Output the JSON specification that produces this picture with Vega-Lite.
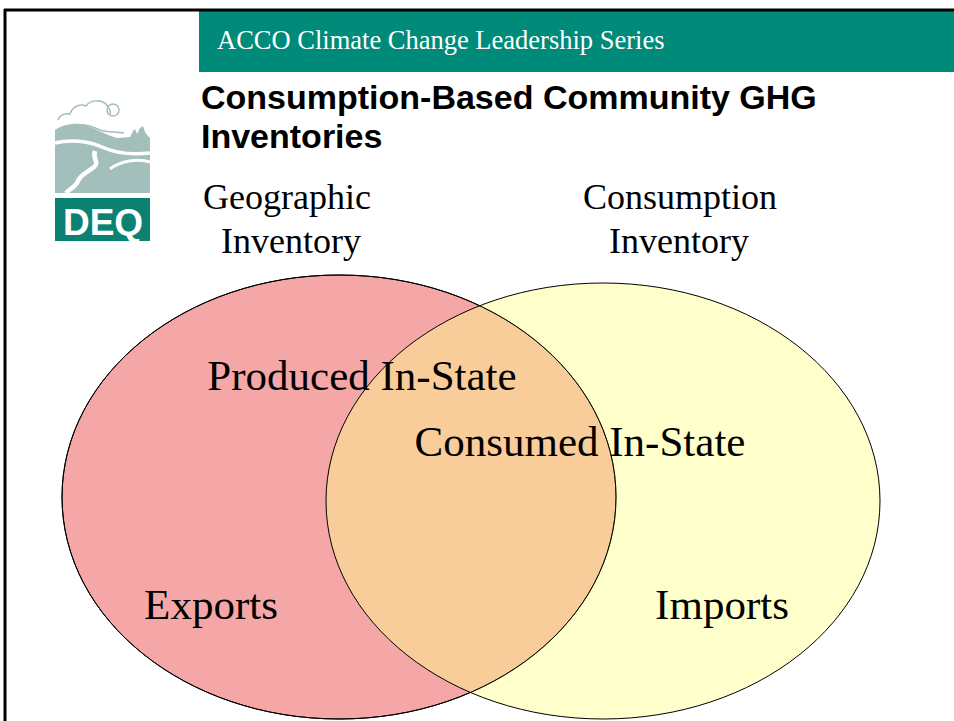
{
  "$schema": "https://vega.github.io/schema/vega-lite/v6.json",
  "width": 954,
  "height": 721,
  "padding": 0,
  "autosize": {"type": "none"},
  "background": "white",
  "config": {"view": {"stroke": null}},
  "datasets": {
    "frame": [
      {"part": "top", "x": 4, "x2": 954, "y": 10, "y2": 10},
      {"part": "left", "x": 5, "x2": 5, "y": 9, "y2": 721}
    ],
    "banner": [{"label": "ACCO Climate Change Leadership Series", "x": 199, "x2": 954, "y": 11, "y2": 72}],
    "bannerText": [{"label": "ACCO Climate Change Leadership Series", "x": 217, "y": 49}],
    "title": [
      {"label": "Consumption-Based Community GHG", "x": 201, "y": 109},
      {"label": "Inventories", "x": 201, "y": 148}
    ],
    "heads": [
      {"label": "Geographic", "x": 287, "y": 209},
      {"label": "Inventory", "x": 291, "y": 253},
      {"label": "Consumption", "x": 680, "y": 209},
      {"label": "Inventory", "x": 679, "y": 253}
    ],
    "sets": [
      {"set": "Geographic Inventory", "x": 339, "y": 497},
      {"set": "Consumption Inventory", "x": 603, "y": 501}
    ],
    "regions": [
      {"label": "Produced In-State", "x": 362, "y": 390},
      {"label": "Consumed In-State", "x": 580, "y": 456},
      {"label": "Exports", "x": 211, "y": 619},
      {"label": "Imports", "x": 722, "y": 619}
    ],
    "logo": [{"name": "landscape", "x": 50, "y": 95}],
    "sun": [{"name": "sun", "x": 113, "y": 110}],
    "deqBox": [{"label": "DEQ", "x": 55, "x2": 150, "y": 198, "y2": 241}],
    "deqText": [{"label": "DEQ", "x": 103, "y": 235}]
  },
  "encoding": {
    "x": {"field": "x", "type": "quantitative", "scale": {"domain": [0, 954], "nice": false, "zero": false}, "axis": null},
    "y": {"field": "y", "type": "quantitative", "scale": {"domain": [0, 721], "nice": false, "zero": false, "reverse": true}, "axis": null}
  },
  "layer": [
    {
      "data": {"name": "sets"},
      "transform": [{"filter": "datum.set == 'Geographic Inventory'"}],
      "mark": {"type": "point", "shape": "M-277,0C-277,-122.6,-153,-222,0,-222C153,-222,277,-122.6,277,0C277,122.6,153,222,0,222C-153,222,-277,122.6,-277,0Z", "size": 4, "filled": true, "fill": "#F5A6A6", "stroke": "#000000", "strokeWidth": 1, "opacity": 1}
    },
    {
      "data": {"name": "sets"},
      "transform": [{"filter": "datum.set == 'Consumption Inventory'"}],
      "mark": {"type": "point", "shape": "M-277,0C-277,-120.4,-153,-218,0,-218C153,-218,277,-120.4,277,0C277,120.4,153,218,0,218C-153,218,-277,120.4,-277,0Z", "size": 4, "filled": true, "fill": "#FFFF8A", "fillOpacity": 0.44, "stroke": "#000000", "strokeOpacity": 1, "strokeWidth": 1, "opacity": 1}
    },
    {
      "data": {"name": "sets"},
      "transform": [{"filter": "datum.set == 'Geographic Inventory'"}],
      "mark": {"type": "point", "shape": "M-277,0C-277,-122.6,-153,-222,0,-222C153,-222,277,-122.6,277,0C277,122.6,153,222,0,222C-153,222,-277,122.6,-277,0Z", "size": 4, "filled": false, "stroke": "#000000", "strokeWidth": 1, "opacity": 1}
    },
    {
      "data": {"name": "banner"},
      "mark": {"type": "rect", "color": "#008A7A"},
      "encoding": {"x2": {"field": "x2"}, "y2": {"field": "y2"}}
    },
    {
      "data": {"name": "frame"},
      "mark": {"type": "rule", "color": "#000000", "strokeWidth": 3},
      "encoding": {"x2": {"field": "x2"}, "y2": {"field": "y2"}}
    },
    {
      "data": {"name": "bannerText"},
      "mark": {"type": "text", "align": "left", "baseline": "alphabetic", "font": "Liberation Serif", "fontSize": 26.5, "color": "#FFFFFF"},
      "encoding": {"text": {"field": "label"}}
    },
    {
      "data": {"name": "title"},
      "mark": {"type": "text", "align": "left", "baseline": "alphabetic", "font": "Liberation Sans", "fontWeight": "bold", "fontSize": 34, "color": "#000000"},
      "encoding": {"text": {"field": "label"}}
    },
    {
      "data": {"name": "heads"},
      "mark": {"type": "text", "align": "center", "baseline": "alphabetic", "font": "Liberation Serif", "fontSize": 36, "color": "#000000"},
      "encoding": {"text": {"field": "label"}}
    },
    {
      "data": {"name": "regions"},
      "mark": {"type": "text", "align": "center", "baseline": "alphabetic", "font": "Liberation Serif", "fontSize": 43, "color": "#000000"},
      "encoding": {"text": {"field": "label"}}
    },
    {
      "data": {"name": "logo"},
      "mark": {"type": "point", "shape": "M5,35C12,30,22,28,30,29C42,31,55,40,67,43L80,42L83,36L85,34L87,39L90,33L93,31L95,37L97,40L100,43L100,98L5,98Z", "size": 4, "filled": true, "fill": "#A3BFBC", "strokeWidth": 0, "opacity": 1}
    },
    {
      "data": {"name": "logo"},
      "mark": {"type": "point", "shape": "M5,48C20,44,38,46,52,52C65,58,82,60,100,58", "size": 4, "filled": false, "stroke": "#FFFFFF", "strokeWidth": 3.5, "opacity": 1}
    },
    {
      "data": {"name": "logo"},
      "mark": {"type": "point", "shape": "M60,74C70,66,88,63,100,67", "size": 4, "filled": false, "stroke": "#FFFFFF", "strokeWidth": 3, "opacity": 1}
    },
    {
      "data": {"name": "logo"},
      "mark": {"type": "point", "shape": "M45,56C42,64,50,67,44,72C38,77,30,80,28,86C26,92,18,95,16,98", "size": 4, "filled": false, "stroke": "#FFFFFF", "strokeWidth": 4.5, "opacity": 1}
    },
    {
      "data": {"name": "sun"},
      "mark": {"type": "point", "shape": "M-6,0C-6,-3.3,-3.3,-6,0,-6C3.3,-6,6,-3.3,6,0C6,3.3,3.3,6,0,6C-3.3,6,-6,3.3,-6,0Z", "size": 4, "filled": true, "fill": "#FFFFFF", "stroke": "#A3BFBC", "strokeWidth": 1.5, "opacity": 1}
    },
    {
      "data": {"name": "logo"},
      "mark": {"type": "point", "shape": "M8,25C10,20,14,18,20,19C22,12,30,8,36,11C40,5,50,4,56,9C58,12,62,16,60,19M18,32C28,28,40,30,50,35C58,38,66,36,74,38", "size": 4, "filled": false, "stroke": "#A3BFBC", "strokeWidth": 1.5, "opacity": 1}
    },
    {
      "data": {"name": "deqBox"},
      "mark": {"type": "rect", "color": "#0B8271"},
      "encoding": {"x2": {"field": "x2"}, "y2": {"field": "y2"}}
    },
    {
      "data": {"name": "deqText"},
      "mark": {"type": "text", "align": "center", "baseline": "alphabetic", "font": "Liberation Sans", "fontWeight": "bold", "fontSize": 37, "color": "#FFFFFF"},
      "encoding": {"text": {"field": "label"}}
    }
  ]
}
